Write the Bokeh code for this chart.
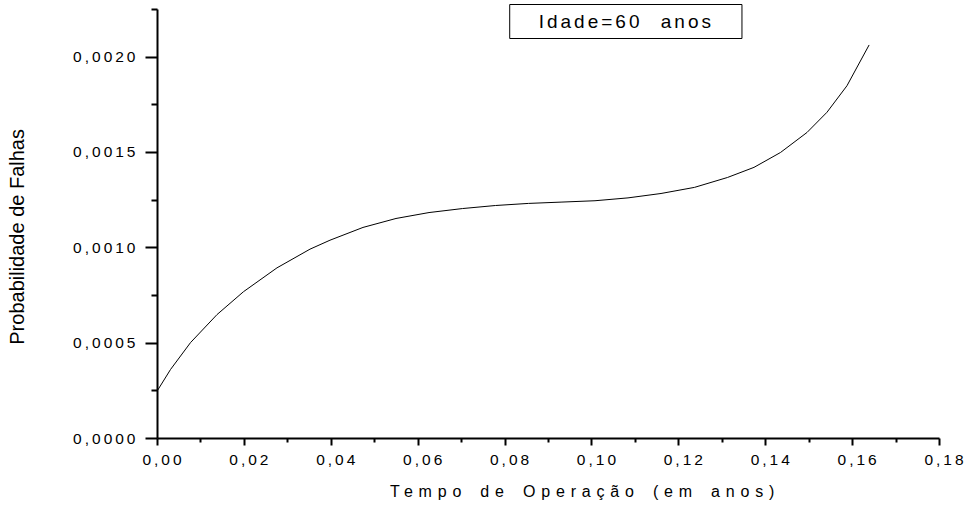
from bokeh.plotting import figure
from bokeh.models import FixedTicker, Label
from bokeh.layouts import row, column
from bokeh.embed import file_html
from bokeh.resources import INLINE

# ---- data ----
tempo = [0.0, 0.0030, 0.0076, 0.0137, 0.0198, 0.0275, 0.0351, 0.0397, 0.0473,
         0.0549, 0.0625, 0.0702, 0.0778, 0.0854, 0.0931, 0.1007, 0.1083, 0.1159,
         0.1236, 0.1312, 0.1373, 0.1434, 0.1495, 0.1541, 0.1587, 0.1638]
probabilidade = [0.000252, 0.000362, 0.000503, 0.000650, 0.000770, 0.000895,
                 0.000993, 0.001040, 0.001107, 0.001154, 0.001185, 0.001206,
                 0.001222, 0.001233, 0.001240, 0.001247, 0.001262, 0.001285,
                 0.001317, 0.001369, 0.001422, 0.001500, 0.001605, 0.001711,
                 0.001850, 0.002064]

x_ticks = [0.00, 0.02, 0.04, 0.06, 0.08, 0.10, 0.12, 0.14, 0.16, 0.18]
x_tick_labels = ["0,00", "0,02", "0,04", "0,06", "0,08", "0,10", "0,12", "0,14", "0,16", "0,18"]
x_minor = [0.01, 0.03, 0.05, 0.07, 0.09, 0.11, 0.13, 0.15, 0.17]

y_ticks = [0.0, 0.0005, 0.0010, 0.0015, 0.0020]
y_tick_labels = ["0,0000", "0,0005", "0,0010", "0,0015", "0,0020"]
y_minor = [0.00025, 0.00075, 0.00125, 0.00175, 0.00225]
y_axis_end = 0.00225

x_title = "Tempo de Operação (em anos)"
y_title = "Probabilidade de Falhas"
annotation_text = "Idade=60 anos"

FONT = "Liberation Sans"
H = 504
W_MAIN = 928
H_MAIN = 474


def bare_panel(width, height, xr, yr):
    f = figure(width=width, height=height, x_range=xr, y_range=yr,
               output_backend="svg", toolbar_location=None,
               x_axis_location=None, y_axis_location=None, min_border=0)
    f.outline_line_color = None
    for g in f.grid:
        g.visible = False
    return f


# ---- narrow panel holding the (unspaced) y-axis title ----
yt = bare_panel(40, H, (0, 1), (0, 1))
yt.add_layout(Label(x=0.40, y=0.531, text=y_title, angle=90, angle_units="deg",
                    text_align="center", text_baseline="middle",
                    text_font=FONT, text_font_size="20px", text_color="black"))

# ---- main plot (Origin-style spaced lettering) ----
p = figure(width=W_MAIN, height=H_MAIN, x_range=(0, 0.18), y_range=(0, 0.0022867),
           output_backend="svg", toolbar_location=None,
           min_border_left=117, min_border_right=29,
           min_border_top=2, min_border_bottom=H_MAIN - 438)
p.styles = {"letter-spacing": "3px", "word-spacing": "10px"}

p.line(tempo, probabilidade, line_color="black", line_width=1)

p.grid.visible = False
p.outline_line_color = None

xa = p.xaxis[0]
xa.ticker = FixedTicker(ticks=x_ticks, minor_ticks=x_minor)
xa.major_label_overrides = dict(zip(x_ticks, x_tick_labels))
ya = p.yaxis[0]
ya.ticker = FixedTicker(ticks=y_ticks, minor_ticks=y_minor)
ya.major_label_overrides = dict(zip(y_ticks, y_tick_labels))
ya.bounds = (0, y_axis_end)

for ax in (xa, ya):
    ax.axis_line_color = "black"
    ax.axis_line_width = 2
    ax.major_tick_line_color = "black"
    ax.major_tick_line_width = 2
    ax.minor_tick_line_color = "black"
    ax.minor_tick_line_width = 2
    ax.major_tick_in = 0
    ax.minor_tick_in = 0
    ax.major_label_text_font = FONT
    ax.major_label_text_color = "black"
    ax.major_label_text_font_size = "15.5px"

xa.major_tick_out = 7
xa.minor_tick_out = 4
xa.major_label_standoff = 9

ya.major_tick_out = 12
ya.minor_tick_out = 6
ya.major_label_standoff = 25

# boxed annotation
p.add_layout(Label(x=0.1078, y=0.002187, text=annotation_text,
                   text_align="center", text_baseline="middle",
                   text_font=FONT, text_font_size="19px", text_color="black",
                   border_line_color="black", border_line_width=1,
                   background_fill_color="white",
                   padding=dict(left=29, right=77, top=6, bottom=7)))

# ---- strip under the plot holding the widely spaced x-axis title ----
xt = bare_panel(W_MAIN, H - H_MAIN, (0, W_MAIN), (0, H - H_MAIN))
xt.styles = {"letter-spacing": "5.8px", "word-spacing": "3px"}
xt.add_layout(Label(x=276, y=13, text=x_title,
                    text_align="left", text_baseline="alphabetic",
                    text_font=FONT, text_font_size="16px", text_color="black"))

layout = row(yt, column(p, xt, spacing=0), spacing=0)
open("out.html", "w").write(file_html(layout, INLINE))
